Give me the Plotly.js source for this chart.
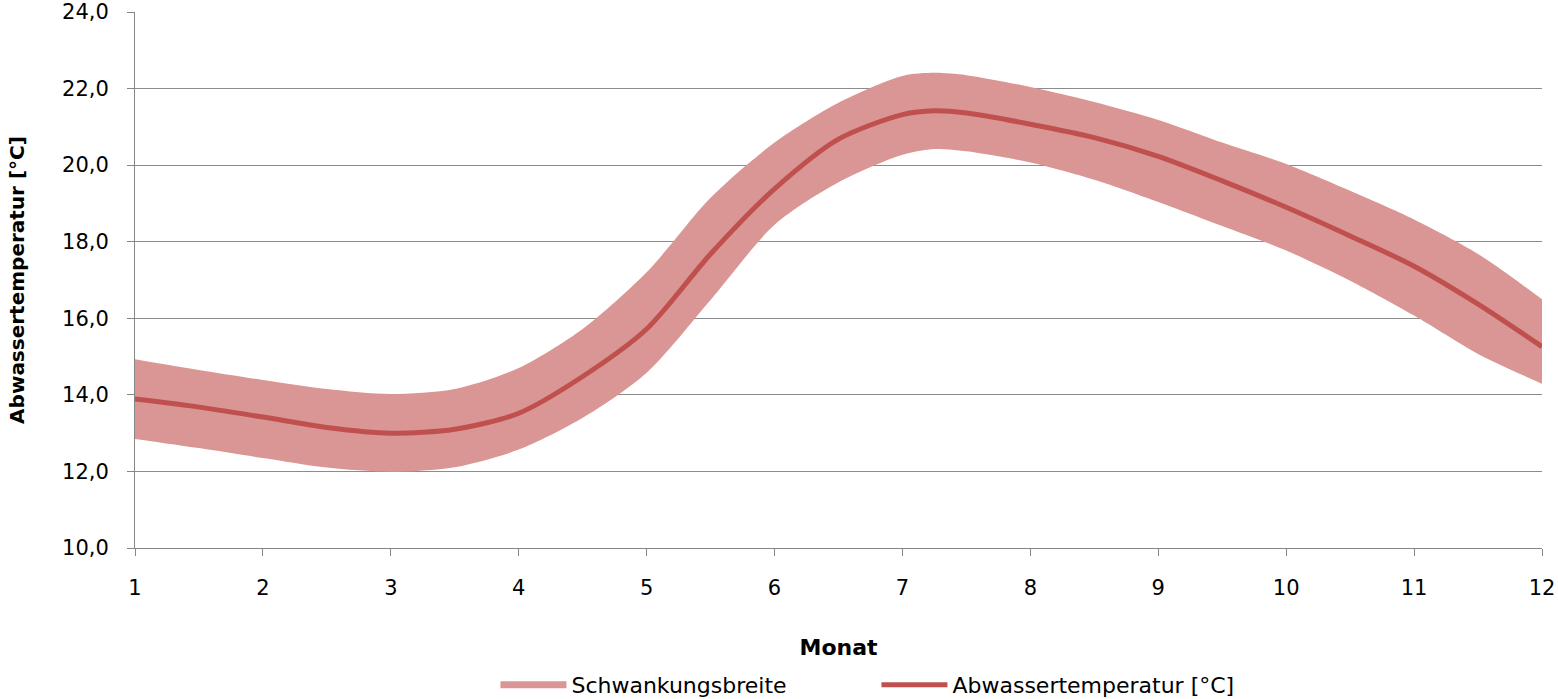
<!DOCTYPE html>
<html>
<head>
<meta charset="utf-8">
<script src="https://cdn.plot.ly/plotly-3.0.1.min.js"></script>
<style>html,body{margin:0;padding:0;background:#fff;}#chart{width:1558px;height:699px;}</style>
</head>
<body>
<div id="chart"></div>
<script>
// Monat (Position auf der x-Achse)
const months = [1, 1.5, 2, 2.5, 3, 3.5, 4, 4.5, 5, 5.5, 6, 6.5, 7, 7.25, 7.5, 8, 8.5, 9, 9.5, 10, 10.5, 11, 11.5, 12];
// Abwassertemperatur [°C] (Mittellinie)
const abwassertemperatur = [13.89, 13.68, 13.42, 13.15, 13.00, 13.10, 13.52, 14.48, 15.72, 17.68, 19.38, 20.68, 21.32, 21.42, 21.36, 21.07, 20.72, 20.23, 19.59, 18.90, 18.15, 17.36, 16.37, 15.26];
// Schwankungsbreite: obere und untere Grenze
const schwankungOben = [14.93, 14.65, 14.39, 14.15, 14.02, 14.15, 14.70, 15.72, 17.20, 19.15, 20.59, 21.63, 22.33, 22.41, 22.35, 22.04, 21.65, 21.18, 20.59, 20.03, 19.33, 18.58, 17.68, 16.50];
const schwankungUnten = [12.85, 12.61, 12.35, 12.10, 11.99, 12.11, 12.57, 13.40, 14.58, 16.48, 18.44, 19.55, 20.27, 20.42, 20.36, 20.07, 19.62, 19.04, 18.41, 17.77, 16.98, 16.07, 15.07, 14.29];
const xTicks = [1, 2, 3, 4, 5, 6, 7, 8, 9, 10, 11, 12];
const yTicks = [10, 12, 14, 16, 18, 20, 22, 24];

const bandColor = '#d99694';
const lineColor = '#c0504d';
const font = 'DejaVu Sans, Verdana, sans-serif';

const traces = [
  {x: months, y: schwankungUnten, type: 'scatter', mode: 'lines',
   line: {width: 0, shape: 'spline', smoothing: 0.8, color: bandColor},
   showlegend: false, hoverinfo: 'skip'},
  {x: months, y: schwankungOben, type: 'scatter', mode: 'lines', fill: 'tonexty',
   fillcolor: bandColor, line: {width: 0, shape: 'spline', smoothing: 0.8, color: bandColor},
   showlegend: false, name: 'Schwankungsbreite'},
  {x: [null], y: [null], type: 'scatter', mode: 'lines', name: 'Schwankungsbreite',
   line: {color: bandColor, width: 7}},
  {x: months, y: abwassertemperatur, type: 'scatter', mode: 'lines', name: 'Abwassertemperatur [°C]',
   line: {color: lineColor, width: 5, shape: 'spline', smoothing: 0.8}}
];

const layout = {
  width: 1558, height: 699,
  margin: {l: 135, r: 16, t: 12, b: 151, autoexpand: false},
  paper_bgcolor: '#ffffff', plot_bgcolor: '#ffffff',
  separators: ',.',
  font: {family: font, size: 21, color: '#000000'},
  showlegend: true,
  legend: {orientation: 'h', xref: 'container', yref: 'container',
           x: 0.318, xanchor: 'left', y: 0.02, yanchor: 'middle',
           entrywidth: 300, entrywidthmode: 'pixels', itemwidth: 66,
           font: {family: font, size: 22, color: '#000000'}, traceorder: 'normal'},
  xaxis: {
    range: [1, 12], tickvals: xTicks, ticktext: xTicks.map(String),
    showgrid: false, zeroline: false, automargin: false,
    showline: true, linecolor: '#868686', linewidth: 1,
    ticks: 'outside', ticklen: 7, tickcolor: '#868686',
    ticklabelstandoff: 14,
    tickfont: {family: font, size: 21, color: '#000000'},
    title: {text: 'Monat', font: {family: font, size: 22, color: '#000000', weight: 'bold'}, standoff: 40},
    fixedrange: true
  },
  yaxis: {
    range: [10, 24], tickvals: yTicks, tickformat: '.1f',
    showgrid: true, gridcolor: '#8c8c8c', gridwidth: 1, zeroline: false, automargin: false,
    showline: true, linecolor: '#868686', linewidth: 1,
    ticks: 'outside', ticklen: 7, tickcolor: '#868686',
    ticklabelstandoff: 14,
    tickfont: {family: font, size: 21, color: '#000000'},
    title: {text: 'Abwassertemperatur [°C]', font: {family: font, size: 20, color: '#000000', weight: 'bold'}, standoff: 32},
    fixedrange: true
  }
};

Plotly.newPlot('chart', traces, layout, {displayModeBar: false, staticPlot: true});
</script>
</body>
</html>
